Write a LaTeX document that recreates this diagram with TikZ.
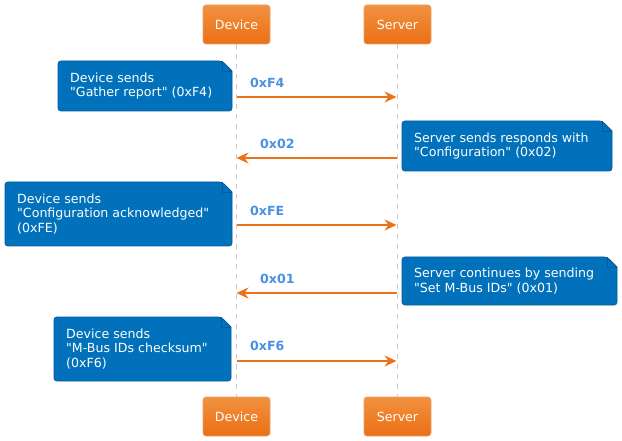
\documentclass[tikz,border=0pt]{standalone}
\usepackage{fontspec}
\setmainfont{DejaVu Sans}
\usetikzlibrary{arrows.meta}
\definecolor{boxtop}{HTML}{F1913F}
\definecolor{boxbot}{HTML}{EB7015}
\definecolor{boxline}{HTML}{E9A06A}
\definecolor{arrowc}{HTML}{EC7219}
\definecolor{notefill}{HTML}{0071BA}
\definecolor{noteline}{HTML}{005C9D}
\definecolor{labelc}{HTML}{4A90E2}
\definecolor{lifec}{HTML}{CCCCCC}
\newcommand{\qq}{\textquotedbl}
\tikzset{
  participant/.style={draw=boxline, line width=0.6pt, rounded corners=3pt,
    top color=boxtop, bottom color=boxbot, minimum width=67pt, minimum height=39pt,
    inner sep=0pt, text=white, font=\fontsize{12.6}{14}\selectfont},
  lifeline/.style={draw=lifec, line width=0.8pt, dash pattern=on 5pt off 5pt},
  msg/.style={draw=arrowc, line width=2.7pt, -{Stealth[length=12pt,width=11pt,inset=4pt]}},
  msglabel/.style={text=labelc, font=\fontsize{12.6}{14}\selectfont\bfseries, inner sep=0pt, anchor=west},
  notetext/.style={text=white, font=\fontsize{12.6}{14.2}\selectfont, align=left, inner sep=0pt, anchor=west},
  notebg/.style={fill=notefill, draw=noteline, line width=0.8pt},
}
% \mynotebox{x1}{y1}{x2}{y2}
\newcommand{\mynotebox}[4]{%
  \path[notebg, rounded corners=3pt] (#1,#2) -- ({#3-10},#2) [sharp corners] -- (#3,{#2+10}) [rounded corners=3pt] -- (#3,#4) -- (#1,#4) -- cycle;
  \draw[noteline, line width=0.8pt] ({#3-10},#2) -- ({#3-10},{#2+10}) -- (#3,{#2+10});
}
\begin{document}
\begin{tikzpicture}[x=1pt,y=-1pt]
\useasboundingbox (0,0) rectangle (622,441);
% participants
\node[participant] (devtop) at (236.5,24.5) {Device};
\node[participant] (srvtop) at (397.5,24.5) {Server};
\node[participant] (devbot) at (236.5,416.5) {Device};
\node[participant] (srvbot) at (397.5,416.5) {Server};
% lifelines
\draw[lifeline] (devtop.south) -- (devbot.north);
\draw[lifeline] (srvtop.south) -- (srvbot.north);
% lifeline points
\coordinate (d1) at (236.5,97);  \coordinate (s1) at (396.5,97);
\coordinate (d2) at (236.5,158); \coordinate (s2) at (396.5,158);
\coordinate (d3) at (236.5,225); \coordinate (s3) at (396.5,225);
\coordinate (d4) at (236.5,293); \coordinate (s4) at (396.5,293);
\coordinate (d5) at (236.5,361); \coordinate (s5) at (396.5,361);
% notes
\mynotebox{58}{61}{232}{111}
\node[notetext] (n1) at (70,86) {Device sends\\\qq Gather report\qq{} (0xF4)};
\mynotebox{402}{121}{612}{171}
\node[notetext] (n2) at (414,146) {Server sends responds with\\\qq Configuration\qq{} (0x02)};
\mynotebox{5}{182}{232}{246}
\node[notetext] (n3) at (17,214) {Device sends\\\qq Configuration acknowledged\qq\\(0xFE)};
\mynotebox{402}{257}{617}{305}
\node[notetext] (n4) at (414,281) {Server continues by sending\\\qq Set M-Bus IDs\qq{} (0x01)};
\mynotebox{54}{317}{231}{381}
\node[notetext] (n5) at (66,349) {Device sends\\\qq M-Bus IDs checksum\qq\\(0xF6)};
% messages
\draw[msg] (d1) -- (s1);
\node[msglabel] (l1) at (250,83) {0xF4};
\draw[msg] (s2) -- (d2);
\node[msglabel] (l2) at (260,144) {0x02};
\draw[msg] (d3) -- (s3);
\node[msglabel] (l3) at (250,211) {0xFE};
\draw[msg] (s4) -- (d4);
\node[msglabel] (l4) at (260,279) {0x01};
\draw[msg] (d5) -- (s5);
\node[msglabel] (l5) at (250,346) {0xF6};
\end{tikzpicture}
\end{document}
